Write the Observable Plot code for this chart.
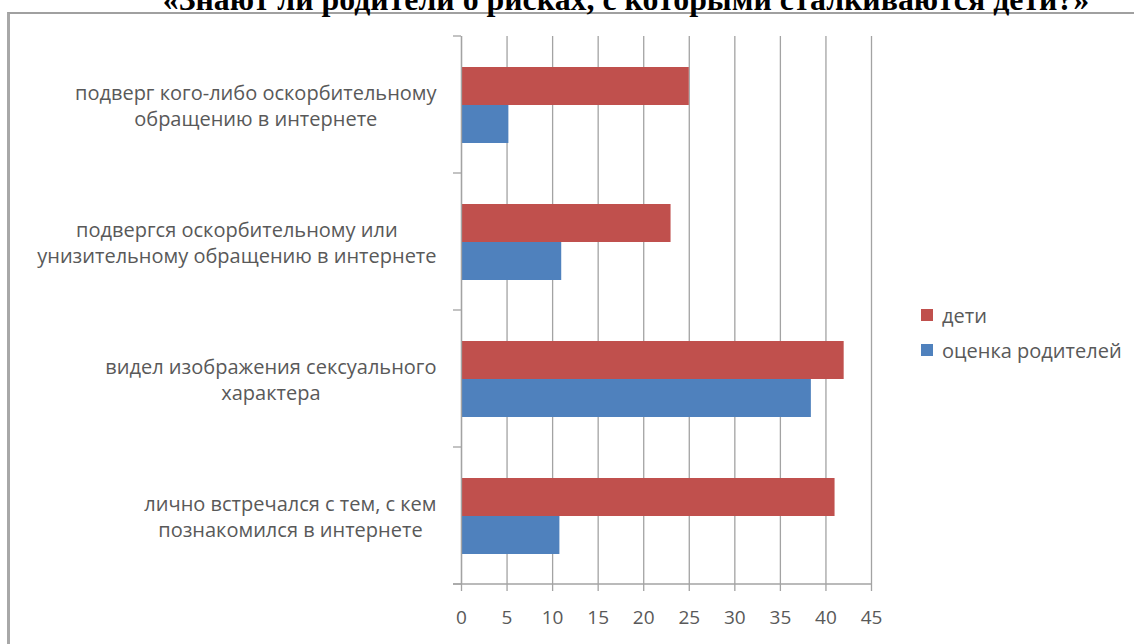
<!DOCTYPE html>
<html lang="ru">
<head>
<meta charset="utf-8">
<script src="https://cdn.jsdelivr.net/npm/d3@7"></script>
<script src="https://cdn.jsdelivr.net/npm/@observablehq/plot@0.6"></script>
<style>
  html, body { margin: 0; padding: 0; background: #fff; }
  #page { position: relative; width: 1134px; height: 644px; overflow: hidden; background: #fff; }
  #frame { position: absolute; left: 7px; top: 12px; width: 1200px; height: 700px;
           border-left: 3px solid #a8a8a8; border-top: 2px solid #a0a0a0; box-sizing: border-box; }
  #title { position: absolute; white-space: nowrap; font-family: "Liberation Serif", "Times New Roman", serif;
           font-weight: bold; color: #000; transform: translateX(-50%); }
  #chart { position: absolute; left: 0; top: 0; }
  .legend { position: absolute; font-family: "Open Sans", sans-serif; font-size: 20px; color: #595959; }
  .legend .row { position: absolute; left: 0; white-space: nowrap; display: flex; align-items: center; }
  .legend .sw { width: 12px; height: 12px; margin-right: 9px; }
</style>
</head>
<body>
<div id="page">
  <div id="frame"></div>
  <div id="chart"></div>
  <div id="title"></div>
  <div class="legend" id="legend"></div>
</div>
<script>
// Survey categories (label lines split as in the chart)
const categories = [
  "подверг кого-либо оскорбительному\nобращению в интернете",
  "подвергся оскорбительному или\nунизительному обращению в интернете",
  "видел изображения сексуального\nхарактера",
  "лично встречался с тем, с кем\nпознакомился в интернете"
];
const series = ["дети", "оценка родителей"];
const childrenValues = [25, 23, 42, 41];
const parentValues = [5.2, 11, 38.4, 10.8];
const xTicks = [0, 5, 10, 15, 20, 25, 30, 35, 40, 45];
const seriesColors = ["#C0504D", "#4F81BD"];
const titleText = "«Знают ли родители о рисках, с которыми сталкиваются дети?»";

const rows = categories.flatMap((c, i) => [
  {category: c, series: series[0], value: childrenValues[i]},
  {category: c, series: series[1], value: parentValues[i]}
]);

const labelFont = "20px 'Open Sans'";
const ctx = document.createElement("canvas").getContext("2d");
function textWidth(s, font) { ctx.font = font; return ctx.measureText(s).width; }
function blockWidth(label) { return d3.max(label.split("\n"), l => textWidth(l, labelFont)); }

const gridColor = "#a3a3a3";
const ink = "#595959";

const plot = Plot.plot({
  width: 1134,
  height: 644,
  marginLeft: 461,
  marginRight: 263,
  marginTop: 35,
  marginBottom: 60,
  style: {fontFamily: "'Open Sans', sans-serif", fontSize: "19px", color: ink, background: "transparent"},
  x: {domain: [0, 45]},
  fy: {domain: categories, padding: 0, axis: null},
  y: {domain: series, paddingInner: 0, paddingOuter: 0.76, axis: null},
  color: {domain: series, range: seriesColors},
  marks: [
    Plot.gridX(xTicks, {stroke: gridColor, strokeOpacity: 1, strokeWidth: 1.3}),
    Plot.barX(rows, {x: "value", y: "series", fy: "category", fill: "series"}),
    Plot.ruleX([0], {stroke: gridColor, strokeWidth: 1.3}),
    Plot.axisX(xTicks, {anchor: "bottom", label: null, tickSize: 7, tickPadding: 19,
                        stroke: gridColor, strokeWidth: 1.3, fill: ink}),
    ...categories.map(c => Plot.text([c], {
      fy: d => d, text: d => d, frameAnchor: "left", textAnchor: "middle",
      dx: -(25 + blockWidth(c) / 2), lineHeight: 1.3, fontSize: 20, fill: ink
    }))
  ]
});

// Category boundary ticks on the left axis and the baseline of the value axis
const fy = plot.scale("fy");
const xs = plot.scale("x");
const x0 = xs.apply(0);
const bounds = categories.map(c => fy.apply(c)).concat([fy.apply(categories[categories.length - 1]) + fy.bandwidth]);
const g = d3.select(plot).append("g").attr("stroke", gridColor).attr("stroke-width", 1.3);
g.selectAll("line.b").data(bounds).join("line")
  .attr("x1", x0 - 8).attr("x2", x0).attr("y1", d => d).attr("y2", d => d);
g.append("line")
  .attr("x1", x0 - 8).attr("x2", xs.apply(45))
  .attr("y1", bounds[bounds.length - 1]).attr("y2", bounds[bounds.length - 1]);

document.getElementById("chart").appendChild(plot);

// Title (top part runs off the page)
const title = document.getElementById("title");
const titleSize = 30 * 927 / textWidth(titleText, "bold 30px 'Liberation Serif'");
title.textContent = titleText;
title.style.fontSize = titleSize + "px";
title.style.lineHeight = titleSize + "px";
title.style.left = "626px";
title.style.top = (10.5 - 0.8375 * titleSize) + "px";

// Legend
const legend = document.getElementById("legend");
legend.style.left = "921px";
legend.style.top = "0px";
series.forEach((s, i) => {
  const row = document.createElement("div");
  row.className = "row";
  row.style.top = (i === 0 ? 301 : 336) + "px";
  row.style.height = "28px";
  const sw = document.createElement("div");
  sw.className = "sw";
  sw.style.background = seriesColors[i];
  const t = document.createElement("span");
  t.textContent = s;
  row.appendChild(sw);
  row.appendChild(t);
  legend.appendChild(row);
});
</script>
</body>
</html>
